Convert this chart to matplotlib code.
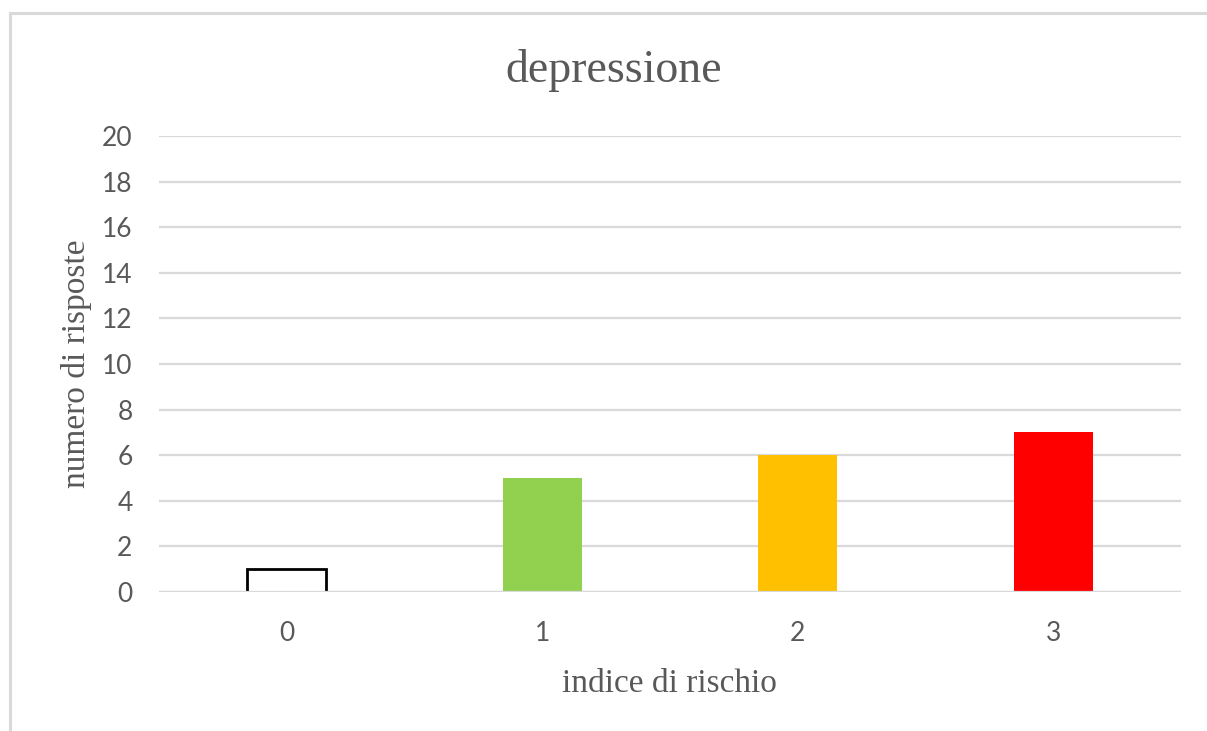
import matplotlib.pyplot as plt
from matplotlib.lines import Line2D

categorie = ['0', '1', '2', '3']
risposte = [1, 5, 6, 7]
colori = ['white', '#92D050', '#FFC000', '#FF0000']
bordi = ['black', 'none', 'none', 'none']

grigio = '#595959'
griglia = '#D9D9D9'

fig = plt.figure(figsize=(12.07, 7.31), dpi=100)
ax = fig.add_axes([159/1207, 1 - 592/731, (1181 - 159)/1207, (592 - 136)/731])

x = range(len(categorie))
ax.bar(x, risposte, width=0.31, color=colori, edgecolor=bordi, linewidth=2.0, zorder=2)
ax.axhline(0, color=griglia, lw=1.6, zorder=3)

ax.set_xlim(-0.5, len(categorie) - 0.5)
ax.set_ylim(0, 20)
ax.set_yticks(range(0, 21, 2))
ax.set_xticks(list(x))
ax.set_xticklabels(categorie)
ax.grid(axis='y', color=griglia, lw=1.6, zorder=0)
ax.set_axisbelow(True)
ax.tick_params(length=0, labelsize=19, labelcolor=grigio)
ax.tick_params(axis='y', pad=19)
ax.tick_params(axis='x', pad=21)
for lab in ax.get_xticklabels() + ax.get_yticklabels():
    lab.set_fontfamily('Lato')
for s in ax.spines.values():
    s.set_visible(False)

fig.text(614/1207, 1 - 71/731, 'depressione', ha='center', va='center',
         fontsize=33, color=grigio, family='Liberation Serif')
fig.text(669/1207, 1 - 684/731, 'indice di rischio', ha='center', va='center',
         fontsize=24, color=grigio, family='Liberation Serif')
fig.text(76/1207, 1 - 364/731, 'numero di risposte', ha='center', va='center',
         rotation=90, fontsize=24, color=grigio, family='Liberation Serif')

# cornice grigia in alto e a sinistra
fig.add_artist(Line2D([10/1207, 1], [1 - 13/731, 1 - 13/731], color=griglia, lw=2.2))
fig.add_artist(Line2D([10/1207, 10/1207], [0, 1 - 13/731], color=griglia, lw=2.2))

fig.savefig('out.png', dpi=100)
